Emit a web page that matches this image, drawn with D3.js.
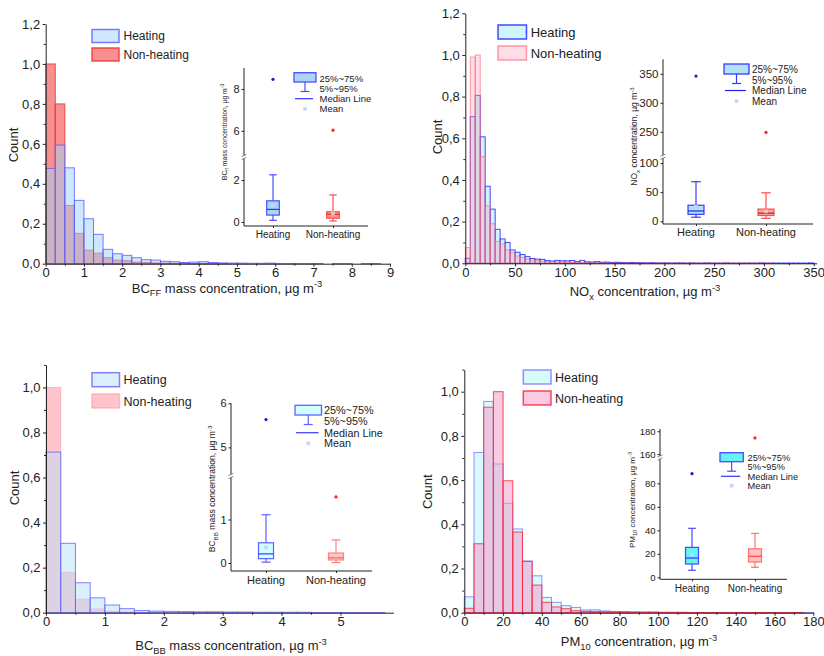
<!DOCTYPE html>
<html>
<head>
<meta charset="utf-8">
<script src="https://cdn.jsdelivr.net/npm/d3@7"></script>
<style>
  body { margin: 0; background: #fff; }
  svg { font-family: "Liberation Sans", Arial, sans-serif; }
</style>
</head>
<body>
<svg id="chart" width="824" height="656"></svg>
<script>
// ---- data ----
var groups = ["Heating", "Non-heating"];

// histogram bin widths
var bcffBin = 0.25, noxBin = 5, bcbbBin = 0.25, pm10Bin = 5;

// normalised counts per bin, starting at 0
var bcffHeating = [0.477, 0.594, 0.48, 0.317, 0.225, 0.147, 0.072, 0.05, 0.042, 0.03, 0.02, 0.018, 0.012, 0.01, 0.006, 0.008, 0.01, 0.006, 0.004, 0.003, 0.003, 0.002, 0.002, 0.003, 0.001, 0.001, 0.001, 0.001, 0.001, 0, 0.001, 0.001, 0, 0.001, 0.001, 0];
var bcffNonHeating = [1.0, 0.8, 0.292, 0.152, 0.068, 0.053, 0.03, 0.018, 0.015, 0.008, 0.006, 0.004, 0.003, 0.002, 0.002, 0.001, 0.001, 0.001, 0.001];

var noxHeating = [0.024, 0.704, 0.806, 0.607, 0.37, 0.26, 0.163, 0.117, 0.1, 0.064, 0.053, 0.042, 0.032, 0.023, 0.02, 0.019, 0.013, 0.011, 0.014, 0.012, 0.012, 0.013, 0.008, 0.014, 0.007, 0.006, 0.008, 0.005, 0.006, 0.004, 0.005, 0.004, 0.003, 0.004, 0.003, 0.003, 0.002, 0.003, 0.002, 0.002, 0.002, 0.001, 0.002, 0.002, 0.001, 0.002, 0.001, 0.001, 0.002, 0.001, 0.001, 0.001, 0.002, 0.001, 0.001, 0.001, 0.001, 0.001, 0.001, 0.002, 0.001, 0.001, 0.001, 0.001, 0.001, 0.001, 0.001, 0.001, 0.001, 0.002];
var noxNonHeating = [0.075, 0.99, 1.0, 0.512, 0.275, 0.19, 0.105, 0.092, 0.064, 0.051, 0.035, 0.028, 0.02, 0.016, 0.012, 0.01, 0.008, 0.007, 0.006, 0.005, 0.004, 0.004, 0.003, 0.003, 0.002, 0.002, 0.002, 0.002, 0.001, 0.001, 0.001, 0.001, 0.001, 0.001, 0.001, 0.001, 0.001, 0.001, 0.001, 0.001, 0.001, 0.001, 0.001, 0.001, 0.001, 0.001, 0.001, 0.001, 0.001, 0.001, 0.001, 0.001, 0.001, 0.001, 0.001, 0.001, 0.001, 0.001, 0.001, 0.001, 0.001, 0.001];

var bcbbHeating = [0.713, 0.308, 0.133, 0.066, 0.034, 0.018, 0.01, 0.007, 0.006, 0.005, 0.004, 0.004, 0.003, 0.003, 0.002, 0.002, 0.002, 0.002, 0.001, 0.001, 0.001, 0.001, 0.001];
var bcbbNonHeating = [1.0, 0.18, 0.06, 0.017, 0.007, 0.004, 0.002, 0.002, 0.001, 0.001, 0.001, 0.001];

var pm10Heating = [0.072, 0.725, 0.956, 0.673, 0.495, 0.379, 0.234, 0.167, 0.069, 0.047, 0.032, 0.024, 0.012, 0.013, 0.008, 0.006, 0.005, 0.004, 0.003, 0.003, 0.002, 0.002, 0.002, 0.001, 0.001, 0.001, 0.001, 0.001, 0.001, 0.001, 0.001, 0.001, 0.001, 0.001, 0.001, 0.001];
var pm10NonHeating = [0.02, 0.312, 0.93, 1.0, 0.597, 0.365, 0.232, 0.125, 0.047, 0.026, 0.018, 0.009, 0.006, 0.005, 0.004, 0.003, 0.003, 0.002, 0.002, 0.002, 0.001, 0.001, 0.001, 0.001, 0.001, 0.001, 0.001, 0.001, 0.001, 0.001, 0.001, 0.001, 0.001, 0.001, 0.001];

// box stats: [p5, q1, median, q3, p95, mean, outlier]
var bcffBoxHeating = [0.08, 0.33, 0.6, 1.01, 2.25, 0.8, 8.46];
var bcffBoxNonHeating = [0.05, 0.18, 0.37, 0.49, 1.29, 0.42, 6.03];
var noxBoxHeating = [7, 12, 17.7, 27.6, 68, 25, 346];
var noxBoxNonHeating = [5, 10, 14, 21, 49, 17, 249];
var bcbbBoxHeating = [0.02, 0.1, 0.21, 0.465, 1.11, 0.36, 5.63];
var bcbbBoxNonHeating = [0.01, 0.07, 0.12, 0.23, 0.53, 0.17, 1.52];
var pm10BoxHeating = [6, 11.3, 16.4, 25.5, 41.7, 19.3, 88.2];
var pm10BoxNonHeating = [8.5, 13, 17.9, 24.3, 37.4, 20.4, 174.2];

// tick values
var bcffXTicks = [0, 1, 2, 3, 4, 5, 6, 7, 8, 9];
var noxXTicks = [0, 50, 100, 150, 200, 250, 300, 350];
var bcbbXTicks = [0, 1, 2, 3, 4, 5];
var pm10XTicks = [0, 20, 40, 60, 80, 100, 120, 140, 160, 180];
var countTicks12 = [0, 0.2, 0.4, 0.6, 0.8, 1.0, 1.2];
var countTicks10 = [0, 0.2, 0.4, 0.6, 0.8, 1.0];
var bcffBoxTicks = [0, 2, 6, 8];
var noxBoxTicks = [0, 50, 100, 250, 300, 350];
var bcbbBoxTicks = [0, 1, 5, 6];
var pm10BoxTicks = [0, 20, 40, 60, 80, 160, 180];

// ---- layout ----
var svg = d3.select("#chart");
var axisColor = "#222";
var commaFmt = function(v) { return d3.format(".1f")(v).replace(".", ","); };
var plainFmt = d3.format("~g");

function midpoints(ticks) {
  var out = [];
  for (var i = 0; i < ticks.length - 1; i++) out.push((ticks[i] + ticks[i + 1]) / 2);
  return out;
}

// text with sub/superscripts: parts = [[text, "sub"|"sup"|""], ...]
function richText(g, parts, fs) {
  var t = g.append("text").attr("font-size", fs).attr("fill", "#222");
  var shift = 0;
  parts.forEach(function(p) {
    var target = p[1] === "sub" ? fs * 0.3 : (p[1] === "sup" ? -fs * 0.4 : 0);
    t.append("tspan")
      .attr("dy", target - shift)
      .attr("font-size", p[1] ? fs * 0.72 : fs)
      .text(p[0]);
    shift = target;
  });
  return t;
}

var panels = [
  {
    hist: [bcffHeating, bcffNonHeating], bin: bcffBin, order: [1, 0],
    xDomain: [0, 9], xRange: [45.7, 390], yDomain: [0, 1.2], yRange: [263.7, 24],
    xTicks: bcffXTicks, yTicks: countTicks12,
    histStyle: [
      { fill: "rgba(160,212,249,0.5)", stroke: "rgba(90,90,255,0.8)" },
      { fill: "rgba(240,70,70,0.6)", stroke: "rgba(240,50,50,0.85)" }
    ],
    title: [["BC", ""], ["FF", "sub"], [" mass concentration, \u00b5g m", ""], ["-3", "sup"]],
    titleX: 227, titleY: 292.5, countX: 13, countY: 145,
    legend: { x: 92, w: 27, h: 13, ys: [29.5, 48], tx: 123.5, fs: 12 },
    inset: {
      boxes: [bcffBoxHeating, bcffBoxNonHeating], ticks: bcffBoxTicks,
      yDomain: [0, 3.1, 4.75, 9], yRange: [222, 157, 157, 68], breakY: 157,
      axisX: 244, axisX1: 368, axisY: 226, centers: [273, 333], boxW: 12.6,
      tickFs: 11, catFs: 10, catY: 238,
      ylab: [["BC", ""], ["ff", "sub"], [" mass concentration, \u00b5g m", ""], ["-3", "sup"]],
      ylabX: 227, ylabY: 132, ylabFs: 6.8,
      colors: [
        { fill: "#a9d6f5", stroke: "#4d4dff", med: "#3030ff", mean: "#c6d2ff", dot: "#1a1acc" },
        { fill: "#f49a9a", stroke: "#ff4d4d", med: "#e02a2a", mean: "#f7c0c0", dot: "#ff2020" }
      ],
      leg: { bx: 294, by: 72.7, bw: 22, bh: 9.3, tx: 319.5, ys: [78.8, 88.8, 98.7, 108.7], fs: 9.5 }
    }
  },
  {
    hist: [noxHeating, noxNonHeating], bin: noxBin, order: [0, 1],
    xDomain: [0, 353], xRange: [465.3, 816.7], yDomain: [0, 1.2], yRange: [263.3, 13.3],
    xTicks: noxXTicks, yTicks: countTicks12,
    histStyle: [
      { fill: "rgba(160,235,245,0.5)", stroke: "rgba(40,40,255,0.85)" },
      { fill: "rgba(255,160,185,0.35)", stroke: "rgba(255,90,110,0.6)" }
    ],
    title: [["NO", ""], ["x", "sub"], [" concentration, \u00b5g m", ""], ["-3", "sup"]],
    titleX: 645, titleY: 296, countX: 437.3, countY: 137,
    legend: { x: 498, w: 28.5, h: 14, ys: [25, 46], tx: 530.7, fs: 13 },
    inset: {
      boxes: [noxBoxHeating, noxBoxNonHeating], ticks: noxBoxTicks,
      yDomain: [0, 111, 207, 375], yRange: [221.3, 156.7, 156.7, 59.3], breakY: 156.7,
      axisX: 663, axisX1: 813, axisY: 224, centers: [696, 766], boxW: 16,
      tickFs: 11.5, catFs: 11, catY: 236,
      ylab: [["NO", ""], ["x", "sub"], [" concentration, \u00b5g m", ""], ["-3", "sup"]],
      ylabX: 637, ylabY: 136.5, ylabFs: 8.5,
      colors: [
        { fill: "#b2e2f5", stroke: "#3a3aff", med: "#2020ee", mean: "#c8d4ff", dot: "#1a1acc" },
        { fill: "#f9a5a5", stroke: "#ff5050", med: "#c02020", mean: "#f7c0c0", dot: "#ff2020" }
      ],
      leg: { bx: 724, by: 64, bw: 25, bh: 10, tx: 752, ys: [69.5, 80, 90.5, 101.2], fs: 10 }
    }
  },
  {
    hist: [bcbbHeating, bcbbNonHeating], bin: bcbbBin, order: [1, 0],
    xDomain: [0, 5.9], xRange: [46, 393.5], yDomain: [0, 1.1], yRange: [612.7, 364.9],
    xTicks: bcbbXTicks, yTicks: countTicks10,
    histStyle: [
      { fill: "rgba(185,225,250,0.5)", stroke: "rgba(100,100,255,0.8)" },
      { fill: "rgba(255,140,150,0.5)", stroke: "rgba(255,150,170,0.6)" }
    ],
    title: [["BC", ""], ["BB", "sub"], [" mass concentration, \u00b5g m", ""], ["-3", "sup"]],
    titleX: 231, titleY: 650, countX: 14, countY: 488,
    legend: { x: 92, w: 27.5, h: 14, ys: [372.7, 394], tx: 123.5, fs: 12.5 },
    inset: {
      boxes: [bcbbBoxHeating, bcbbBoxNonHeating], ticks: bcbbBoxTicks,
      yDomain: [0, 2, 4.35, 6], yRange: [563, 476, 476, 403.3], breakY: 476,
      axisX: 231, axisX1: 372, axisY: 571, centers: [266, 336], boxW: 15,
      tickFs: 11, catFs: 11, catY: 584,
      ylab: [["BC", ""], ["BB", "sub"], [" mass concentration, \u00b5g m", ""], ["-3", "sup"]],
      ylabX: 215, ylabY: 489, ylabFs: 8.6,
      colors: [
        { fill: "#cfffff", stroke: "#6060ff", med: "#3a3aff", mean: "#c8d4ff", dot: "#1a1acc" },
        { fill: "#ffc9c9", stroke: "#ff8080", med: "#ff5a5a", mean: "#f7c0c0", dot: "#ff2020" }
      ],
      leg: { bx: 295, by: 405.3, bw: 26.5, bh: 9.7, tx: 324, ys: [410.5, 421, 432.7, 443.3], fs: 10.8 }
    }
  },
  {
    hist: [pm10Heating, pm10NonHeating], bin: pm10Bin, order: [0, 1],
    xDomain: [0, 180], xRange: [464.3, 813.3], yDomain: [0, 1.1], yRange: [612.7, 369.6],
    xTicks: pm10XTicks, yTicks: countTicks10,
    histStyle: [
      { fill: "rgba(175,245,250,0.5)", stroke: "rgba(120,120,255,0.8)" },
      { fill: "rgba(245,150,200,0.5)", stroke: "rgba(255,40,60,0.85)" }
    ],
    title: [["PM", ""], ["10", "sub"], [" concentration, \u00b5g m", ""], ["-3", "sup"]],
    titleX: 639, titleY: 646, countX: 427, countY: 491.7,
    legend: { x: 523.3, w: 27.7, h: 14, ys: [370, 391], tx: 555, fs: 12.5 },
    inset: {
      boxes: [pm10BoxHeating, pm10BoxNonHeating], ticks: pm10BoxTicks,
      yDomain: [0, 102, 157, 182], yRange: [577.3, 457.5, 457.5, 429], breakY: 457.5,
      axisX: 660, axisX1: 787, axisY: 579.3, centers: [692, 755], boxW: 13,
      tickFs: 9.5, catFs: 10, catY: 592,
      ylab: [["PM", ""], ["10", "sub"], [" concentration, \u00b5g m", ""], ["-3", "sup"]],
      ylabX: 635, ylabY: 500, ylabFs: 8,
      colors: [
        { fill: "#66f2f2", stroke: "#4a4aff", med: "#3030ff", mean: "#c8d4ff", dot: "#1a1acc" },
        { fill: "#ffc0c0", stroke: "#ff7070", med: "#ff4040", mean: "#f7c0c0", dot: "#ff2020" }
      ],
      leg: { bx: 720, by: 452.7, bw: 23.3, bh: 9, tx: 747.5, ys: [457.5, 467, 476.3, 485.6], fs: 9.3 }
    }
  }
];

function styleAxis(g, fs) {
  g.attr("font-family", null).attr("font-size", fs);
  g.selectAll("path, line").attr("stroke", axisColor);
  g.selectAll("text").attr("fill", "#222");
}

function drawHist(p) {
  var g = svg.append("g");
  var x = d3.scaleLinear().domain(p.xDomain).range(p.xRange);
  var y = d3.scaleLinear().domain(p.yDomain).range(p.yRange);

  p.order.forEach(function(k) {
    var st = p.histStyle[k];
    var bins = p.hist[k].map(function(v, i) { return { i: i, v: v }; })
      .filter(function(d) { return d.v > 0; });
    g.append("g").selectAll("rect").data(bins).join("rect")
      .attr("x", function(d) { return x(d.i * p.bin); })
      .attr("width", function(d) { return x((d.i + 1) * p.bin) - x(d.i * p.bin); })
      .attr("y", function(d) { return y(d.v); })
      .attr("height", function(d) { return y(0) - y(d.v); })
      .attr("fill", st.fill)
      .attr("stroke", st.stroke)
      .attr("stroke-width", 1);
  });

  // x axis
  var xa = g.append("g").attr("transform", "translate(0," + p.yRange[0] + ")")
    .call(d3.axisBottom(x).tickValues(p.xTicks).tickFormat(plainFmt).tickSize(3).tickPadding(1.5).tickSizeOuter(0));
  styleAxis(xa, 13);
  var xm = g.append("g").attr("transform", "translate(0," + p.yRange[0] + ")")
    .call(d3.axisBottom(x).tickValues(midpoints(p.xTicks)).tickSize(2).tickFormat(""));
  xm.select(".domain").remove();
  styleAxis(xm, 13);

  // y axis
  var ya = g.append("g").attr("transform", "translate(" + p.xRange[0] + ",0)")
    .call(d3.axisLeft(y).tickValues(p.yTicks).tickFormat(commaFmt).tickSize(3).tickPadding(2.5).tickSizeOuter(0));
  styleAxis(ya, 13);
  var minorY = d3.range(0.1, p.yDomain[1] + 1e-6, 0.2);
  var ym = g.append("g").attr("transform", "translate(" + p.xRange[0] + ",0)")
    .call(d3.axisLeft(y).tickValues(minorY).tickSize(2).tickFormat(""));
  ym.select(".domain").remove();
  styleAxis(ym, 13);

  // titles
  richText(g, p.title, 13).attr("x", p.titleX).attr("y", p.titleY).attr("text-anchor", "middle");
  g.append("text").attr("transform", "translate(" + p.countX + "," + p.countY + ") rotate(-90)")
    .attr("dy", "0.35em").attr("text-anchor", "middle").attr("font-size", 13).attr("fill", "#222")
    .text("Count");

  // legend
  var L = p.legend;
  groups.forEach(function(name, k) {
    var st = p.histStyle[k];
    g.append("rect").attr("x", L.x).attr("y", L.ys[k]).attr("width", L.w).attr("height", L.h)
      .attr("fill", "#fff");
    g.append("rect").attr("x", L.x).attr("y", L.ys[k]).attr("width", L.w).attr("height", L.h)
      .attr("fill", st.fill).attr("stroke", st.stroke).attr("stroke-width", 1.5);
    g.append("text").attr("x", L.tx).attr("y", L.ys[k] + L.h / 2).attr("dy", "0.36em")
      .attr("font-size", L.fs).attr("fill", "#222").text(name);
  });

  drawInset(p.inset);
}

function drawInset(s) {
  var g = svg.append("g");
  var y = d3.scaleLinear().domain(s.yDomain).range(s.yRange);
  var x = d3.scalePoint().domain(groups).range(s.centers);
  var top = s.yRange[s.yRange.length - 1];

  // axes lines
  g.append("line").attr("x1", s.axisX).attr("x2", s.axisX).attr("y1", top).attr("y2", s.axisY)
    .attr("stroke", axisColor);
  g.append("line").attr("x1", s.axisX).attr("x2", s.axisX1).attr("y1", s.axisY).attr("y2", s.axisY)
    .attr("stroke", axisColor);

  var ya = g.append("g").attr("transform", "translate(" + s.axisX + ",0)")
    .call(d3.axisLeft(y).tickValues(s.ticks).tickFormat(plainFmt).tickSize(2.5).tickPadding(2));
  ya.select(".domain").remove();
  styleAxis(ya, s.tickFs);

  var xa = g.append("g").attr("transform", "translate(0," + s.axisY + ")")
    .call(d3.axisBottom(x).tickSize(2).tickFormat(""));
  xa.select(".domain").remove();
  styleAxis(xa, s.catFs);
  groups.forEach(function(name) {
    g.append("text").attr("x", x(name)).attr("y", s.catY).attr("text-anchor", "middle")
      .attr("font-size", s.catFs).attr("fill", "#222").text(name);
  });

  // axis break mark
  g.append("rect").attr("x", s.axisX - 3).attr("y", s.breakY - 1.5).attr("width", 6).attr("height", 3)
    .attr("fill", "#fff");
  [-1.5, 1.5].forEach(function(off) {
    g.append("line").attr("x1", s.axisX - 2.5).attr("x2", s.axisX + 2.5)
      .attr("y1", s.breakY + off + 1.2).attr("y2", s.breakY + off - 1.2)
      .attr("stroke", "#666").attr("stroke-width", 0.8);
  });

  // y title
  richText(g, s.ylab, s.ylabFs)
    .attr("transform", "translate(" + s.ylabX + "," + s.ylabY + ") rotate(-90)")
    .attr("text-anchor", "middle");

  // boxes
  groups.forEach(function(name, k) {
    var b = s.boxes[k], c = s.colors[k], cx = x(name), w = s.boxW;
    g.append("line").attr("x1", cx).attr("x2", cx).attr("y1", y(b[4])).attr("y2", y(b[3]))
      .attr("stroke", c.stroke).attr("stroke-width", 1.2);
    g.append("line").attr("x1", cx).attr("x2", cx).attr("y1", y(b[1])).attr("y2", y(b[0]))
      .attr("stroke", c.stroke).attr("stroke-width", 1.2);
    [b[0], b[4]].forEach(function(v) {
      g.append("line").attr("x1", cx - w * 0.3).attr("x2", cx + w * 0.3).attr("y1", y(v)).attr("y2", y(v))
        .attr("stroke", c.stroke).attr("stroke-width", 1.2);
    });
    g.append("rect").attr("x", cx - w / 2).attr("width", w)
      .attr("y", y(b[3])).attr("height", y(b[1]) - y(b[3]))
      .attr("fill", c.fill).attr("stroke", c.stroke).attr("stroke-width", 1.2);
    g.append("line").attr("x1", cx - w / 2).attr("x2", cx + w / 2).attr("y1", y(b[2])).attr("y2", y(b[2]))
      .attr("stroke", c.med).attr("stroke-width", 1.2);
    g.append("rect").attr("x", cx - 1.8).attr("y", y(b[5]) - 1.8).attr("width", 3.6).attr("height", 3.6)
      .attr("fill", c.mean);
    g.append("circle").attr("cx", cx).attr("cy", y(b[6])).attr("r", 1.6).attr("fill", c.dot);
  });

  // legend
  var L = s.leg, c0 = s.colors[0], mx = L.bx + L.bw / 2;
  g.append("rect").attr("x", L.bx).attr("y", L.by).attr("width", L.bw).attr("height", L.bh)
    .attr("fill", c0.fill).attr("stroke", c0.stroke).attr("stroke-width", 1.3);
  g.append("line").attr("x1", mx).attr("x2", mx).attr("y1", L.by + L.bh).attr("y2", L.by + L.bh + 9.5)
    .attr("stroke", c0.stroke).attr("stroke-width", 1.2);
  g.append("line").attr("x1", mx - 4.5).attr("x2", mx + 4.5).attr("y1", L.by + L.bh + 9.5).attr("y2", L.by + L.bh + 9.5)
    .attr("stroke", c0.stroke).attr("stroke-width", 1.2);
  g.append("line").attr("x1", L.bx + 1).attr("x2", L.bx + L.bw - 3).attr("y1", L.ys[2]).attr("y2", L.ys[2])
    .attr("stroke", c0.med).attr("stroke-width", 1.2);
  g.append("rect").attr("x", mx - 1.8).attr("y", L.ys[3] - 1.8).attr("width", 3.6).attr("height", 3.6)
    .attr("fill", c0.mean);
  ["25%~75%", "5%~95%", "Median Line", "Mean"].forEach(function(t, i) {
    g.append("text").attr("x", L.tx).attr("y", L.ys[i]).attr("dy", "0.36em")
      .attr("font-size", L.fs).attr("fill", "#222").text(t);
  });
}

panels.forEach(drawHist);
</script>
</body>
</html>
